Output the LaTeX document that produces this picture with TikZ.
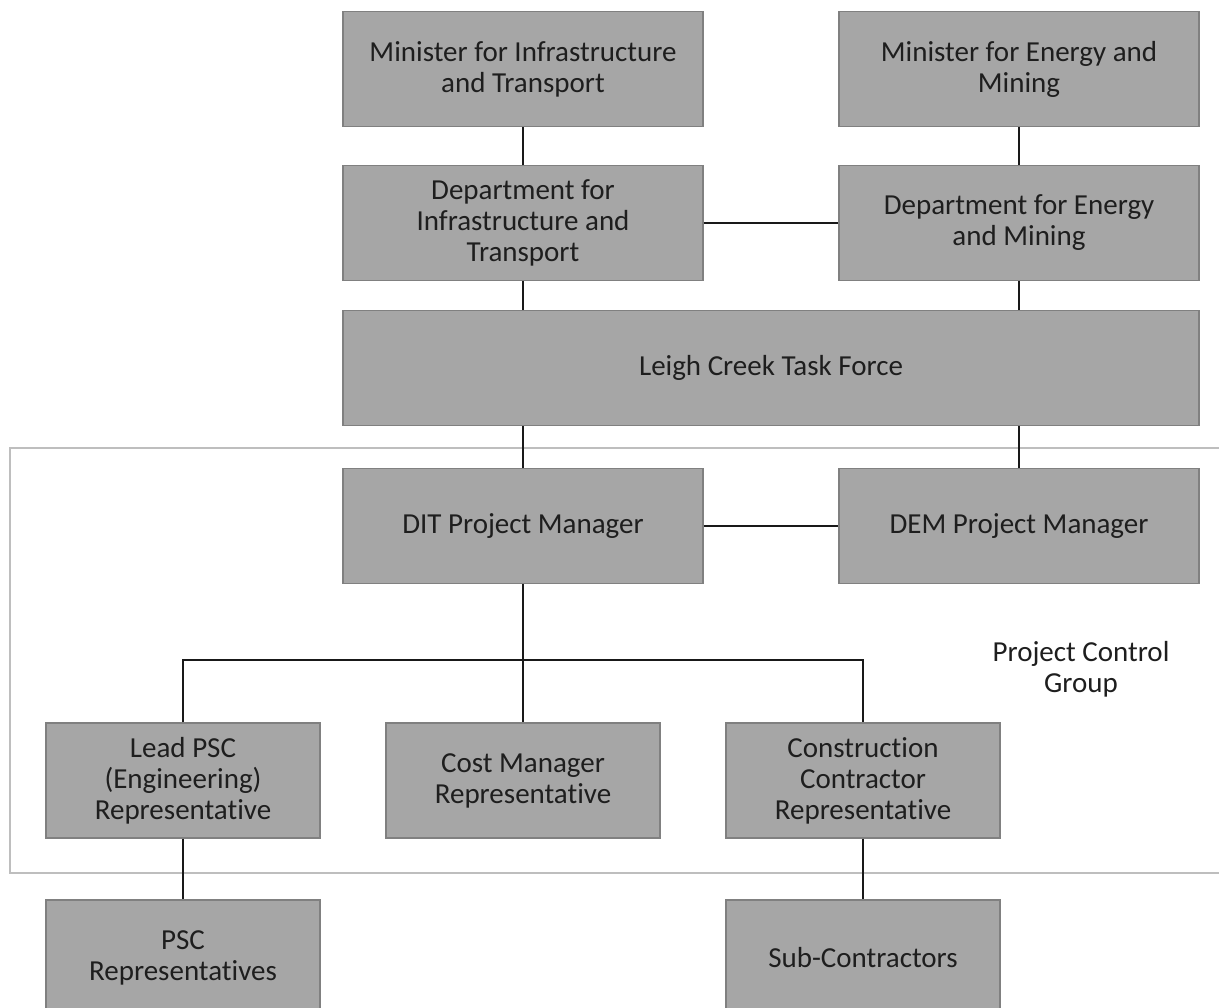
\documentclass[tikz,border=0pt]{standalone}
\usepackage{fontspec}
\setmainfont{Carlito}[Ligatures={NoCommon}]
\usetikzlibrary{positioning,calc}
\definecolor{boxfill}{RGB}{166,166,166}
\definecolor{boxedge}{RGB}{128,128,128}
\definecolor{groupedge}{RGB}{190,190,190}
\definecolor{boxtext}{RGB}{30,30,30}

\begin{document}
\begin{tikzpicture}[
  x=0.02cm, y=-0.02cm,
  font={\fontsize{16.5}{17.6}\selectfont},
  orgbox/.style={draw=boxedge,line width=0.8pt,fill=boxfill,text=boxtext,align=center,inner sep=0pt,minimum height=2.3cm},
  wide/.style={minimum width=7.2cm},
  narrow/.style={minimum width=5.48cm},
  link/.style={line width=1.2pt,black!90},
]
  \useasboundingbox (0,0) rectangle (1219,1007);

  % Project control group frame
  \draw[groupedge,line width=1.1pt] (10,448) rectangle (1240,873);
  \node[text=boxtext,align=center] (pcg) at (1081,669) {Project Control\\Group};

  % Ministers and departments
  \node[orgbox,wide] (mit) at (523,69) {Minister for Infrastructure\\and Transport};
  \node[orgbox,wide] (mem) at (1019,69) {Minister for Energy and\\Mining};
  \node[orgbox,wide] (dit) at (523,223) {Department for\\Infrastructure and\\Transport};
  \node[orgbox,wide] (dem) at (1019,223) {Department for Energy\\and Mining};

  \node[orgbox,minimum width=17.12cm] (lctf) at (771,368) {Leigh Creek Task Force};

  % Project managers
  \node[orgbox,wide] (ditpm) at (523,526) {DIT Project Manager};
  \node[orgbox,wide] (dempm) at (1019,526) {DEM Project Manager};

  % Representatives
  \node[orgbox,narrow] (lead) at (183,780.5) {Lead PSC\\(Engineering)\\Representative};
  \node[orgbox,narrow] (cost) at (523,780.5) {Cost Manager\\Representative};
  \node[orgbox,narrow] (cons) at (863,780.5) {Construction\\Contractor\\Representative};

  \node[orgbox,narrow] (pscrep) at (183,957.5) {PSC\\Representatives};
  \node[orgbox,narrow] (subcon) at (863,957.5) {Sub-Contractors};

  \coordinate (bus) at (523,660);

  \draw[link] (mit.south) -- (dit.north);
  \draw[link] (mem.south) -- (dem.north);
  \draw[link] (dit.east) -- (dem.west);
  \draw[link] (dit.south) -- (dit.south |- lctf.north);
  \draw[link] (dem.south) -- (dem.south |- lctf.north);
  \draw[link] (ditpm.north |- lctf.south) -- (ditpm.north);
  \draw[link] (dempm.north |- lctf.south) -- (dempm.north);
  \draw[link] (ditpm.east) -- (dempm.west);
  \draw[link] (ditpm.south) -- (cost.north);
  \draw[link] (lead.north) |- (bus) -| (cons.north);
  \draw[link] (lead.south) -- (pscrep.north);
  \draw[link] (cons.south) -- (subcon.north);

\end{tikzpicture}
\end{document}
